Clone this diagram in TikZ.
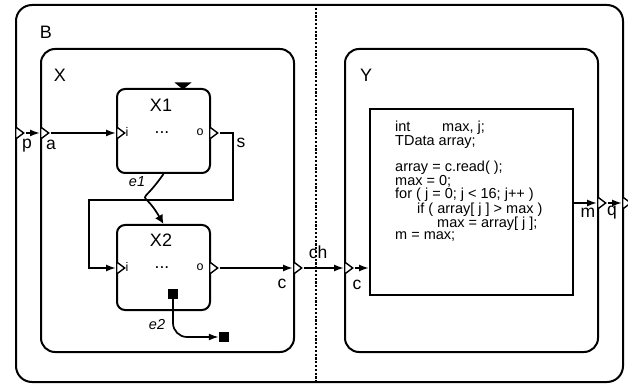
\documentclass[tikz,border=0pt]{standalone}
\usepackage{fontspec}
\setmainfont{Liberation Sans}
\usetikzlibrary{arrows.meta,shapes.geometric}
\tikzset{
  blk/.style={draw, line width=2pt, rounded corners=#1, anchor=south west, inner sep=0pt},
  prt/.style={draw, fill=white, line width=1.4pt, isosceles triangle, isosceles triangle stretches,
    shape border rotate=0, minimum width=12pt, minimum height=8pt, inner sep=0pt, anchor=west},
  sig/.style={line width=1.7pt, -{Latex[length=10pt,width=7pt]}},
  tok/.style={fill, minimum size=10pt, inner sep=0pt},
  big/.style={font=\fontsize{18}{20}\selectfont},
  pin/.style={font=\fontsize{17.5}{20}\selectfont},
  tiny/.style={font=\fontsize{12.5}{14}\selectfont},
  evt/.style={font=\fontsize{14.5}{16}\selectfont\itshape}
}
\begin{document}
\begin{tikzpicture}[x=1pt, y=1pt]
  \useasboundingbox (0,0) rectangle (628,388);

  \node[blk=16pt, minimum width=607pt, minimum height=377pt] (B) at (15,5) {};
  \node[blk=14pt, minimum width=253pt, minimum height=303pt] (X) at (40,35) {};
  \node[blk=14pt, minimum width=253pt, minimum height=303pt] (Y) at (344,35) {};
  \node[blk=8pt, minimum width=93pt, minimum height=84pt] (X1) at (116,214) {};
  \node[blk=8pt, minimum width=93pt, minimum height=85pt] (X2) at (116,77) {};
  \node[blk=0pt, line width=1.6pt, minimum width=203pt, minimum height=186pt] (code) at (369,92) {};

  \coordinate (cut) at (316,0);
  \draw[line width=1.6pt, dash pattern=on 2.2pt off 1.6pt] (cut |- B.north) -- (cut |- B.south);

  \node[big] (Blbl) at (46,356) {B};
  \node[big] (Xlbl) at (60,313) {X};
  \node[big] (Ylbl) at (366,313) {Y};
  \node[big] (X1lbl) at (161,283) {X1};
  \node[big] (X2lbl) at (161,148) {X2};
  \node[pin] (X1dots) at (162,255) {...};
  \node[pin] (X2dots) at (162,120) {...};

  \node[fill, isosceles triangle, isosceles triangle stretches, shape border rotate=-90,
    minimum width=17pt, minimum height=7pt, inner sep=0pt, anchor=apex] (clk) at (183,298) {};

  \node[prt] (Bp) at (15,255) {};
  \node[prt] (Xa) at (40,255) {};
  \node[prt] (X1i) at (116,255) {};
  \node[prt] (X1o) at (209,255) {};
  \node[prt] (X2i) at (116,120) {};
  \node[prt] (X2o) at (209,120) {};
  \node[prt] (Xc) at (293,120) {};
  \node[prt] (Yc) at (344,120) {};
  \node[prt] (Ym) at (597,185) {};
  \node[prt] (Bq) at (622,185) {};

  \node[pin] (plbl) at (27,242) {p};
  \node[pin] (albl) at (51,243) {a};
  \node[pin] (slbl) at (241,245) {s};
  \node[pin] (Xclbl) at (282,104) {c};
  \node[pin] (chlbl) at (318,136) {ch};
  \node[pin] (Yclbl) at (357,103) {c};
  \node[pin] (mlbl) at (588,175) {m};
  \node[pin] (qlbl) at (612,175) {q};
  \node[tiny] (X1ilbl) at (127,256) {i};
  \node[tiny] (X1olbl) at (200,256) {o};
  \node[tiny] (X2ilbl) at (127,121) {i};
  \node[tiny] (X2olbl) at (200,121) {o};

  \node[tok] (e2s) at (173,94) {};
  \node[tok] (e2t) at (224,51) {};
  \node[evt] (e1lbl) at (137,206) {e1};
  \node[evt] (e2lbl) at (157,63) {e2};

  \node[anchor=north west, align=left, inner sep=0pt, font=\fontsize{14.5}{11.2}\selectfont] (src) at (395,267) {%
    \makebox[47pt][l]{int}max, j;\\
    TData array;\\[11.2pt]
    array = c.read( );\\
    max = 0;\\
    for ( j = 0; j < 16; j++ )\\
    \hspace*{22pt}if ( array[ j ] > max )\\
    \hspace*{42pt}max = array[ j ];\\
    m = max;};

  \draw[sig] (Bp.east) -- (Xa.west);
  \draw[sig] (Xa.east) -- (X1i.west);
  \draw[sig] (X1o.east) -- (233,255) -- (233,188) -- (89,188) -- (89,120) -- (X2i.west);
  \draw[sig] (X2o.east) -- (Xc.west);
  \draw[sig] (Xc.east) -- (Yc.west);
  \draw[sig] (Yc.east) -- (code.west |- Yc);
  \draw[sig] (code.east |- Ym) -- (Ym.west);
  \draw[sig] (Ym.east) -- (Bq.west);
  \draw[sig, -{Latex[length=9pt,width=9pt]}] (X1.south) to[out=-125, in=120, looseness=2.3] (X2.north);
  \draw[sig, rounded corners=14pt] (e2s) |- (e2t);
\end{tikzpicture}
\end{document}
